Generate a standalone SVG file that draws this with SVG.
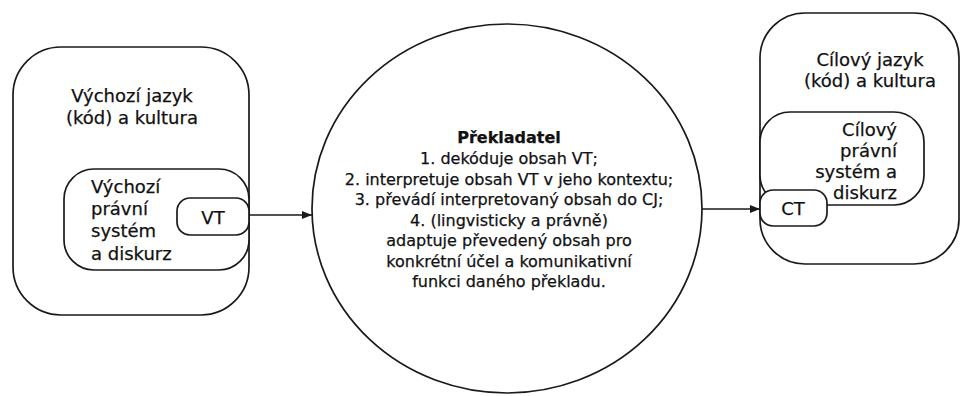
<svg xmlns="http://www.w3.org/2000/svg" width="961" height="396" viewBox="0 0 961 396">
  <style>
    .box { fill: #ffffff; stroke: #1a1a1a; stroke-width: 1.7; }
    .line { stroke: #1a1a1a; stroke-width: 1.6; fill: none; }
    text { font-family: "DejaVu Sans", Verdana, sans-serif; fill: #111111; stroke: #111111; stroke-width: 0.25; }
    .lbl { font-size: 18px; }
    .ctr { text-anchor: middle; }
    .circ { font-size: 16px; text-anchor: middle; }
    .bold { font-weight: bold; }
  </style>
  <defs>
    <marker id="arrow" viewBox="0 0 10 8" refX="10" refY="4" markerWidth="10" markerHeight="8" markerUnits="userSpaceOnUse" orient="auto">
      <path d="M0,0 L10,4 L0,8 Z" fill="#1a1a1a"/>
    </marker>
  </defs>
  <rect width="961" height="396" fill="#ffffff"/>

  <g id="source-culture">
    <rect class="box" x="13" y="47" width="236" height="268" rx="48" ry="48"/>
    <text class="lbl ctr" x="132" y="102">Výchozí jazyk</text>
    <text class="lbl ctr" x="132" y="124">(kód) a kultura</text>
  </g>
  <g id="source-legal">
    <rect class="box" x="64" y="169" width="185" height="101" rx="30" ry="30"/>
    <text class="lbl" x="91" y="193">Výchozí</text>
    <text class="lbl" x="91" y="215">právní</text>
    <text class="lbl" x="91" y="237">systém</text>
    <text class="lbl" x="91" y="260">a diskurz</text>
  </g>
  <g id="vt">
    <rect class="box" x="177" y="198" width="72" height="37" rx="13" ry="13"/>
    <text class="lbl ctr" x="213" y="224">VT</text>
  </g>

  <g id="translator">
    <ellipse class="box" cx="507" cy="208.5" rx="195" ry="184.5"/>
    <text class="circ bold" x="509" y="143">Překladatel</text>
    <text class="circ" x="509" y="164">1. dekóduje obsah VT;</text>
    <text class="circ" x="509" y="185">2. interpretuje obsah VT v jeho kontextu;</text>
    <text class="circ" x="509" y="205">3. převádí interpretovaný obsah do CJ;</text>
    <text class="circ" x="509" y="226">4. (lingvisticky a právně)</text>
    <text class="circ" x="509" y="246">adaptuje převedený obsah pro</text>
    <text class="circ" x="509" y="267">konkrétní účel a komunikativní</text>
    <text class="circ" x="509" y="287">funkci daného překladu.</text>
  </g>

  <g id="target-culture">
    <rect class="box" x="760" y="13" width="199" height="251" rx="45" ry="45"/>
    <text class="lbl ctr" x="870" y="66">Cílový jazyk</text>
    <text class="lbl ctr" x="870" y="87">(kód) a kultura</text>
  </g>
  <g id="target-legal">
    <rect class="box" x="760" y="112" width="164" height="93" rx="30" ry="30"/>
    <text class="lbl" x="897" y="136" text-anchor="end">Cílový</text>
    <text class="lbl" x="897" y="157" text-anchor="end">právní</text>
    <text class="lbl" x="897" y="178" text-anchor="end">systém a</text>
    <text class="lbl" x="897" y="199" text-anchor="end">diskurz</text>
  </g>
  <g id="ct">
    <rect class="box" x="760" y="190" width="67" height="36" rx="13" ry="13"/>
    <text class="lbl ctr" x="793" y="215">CT</text>
  </g>

  <g id="connectors">
    <line class="line" x1="249" y1="215" x2="312" y2="215" marker-end="url(#arrow)"/>
    <line class="line" x1="702" y1="209" x2="760" y2="209" marker-end="url(#arrow)"/>
  </g>
</svg>
